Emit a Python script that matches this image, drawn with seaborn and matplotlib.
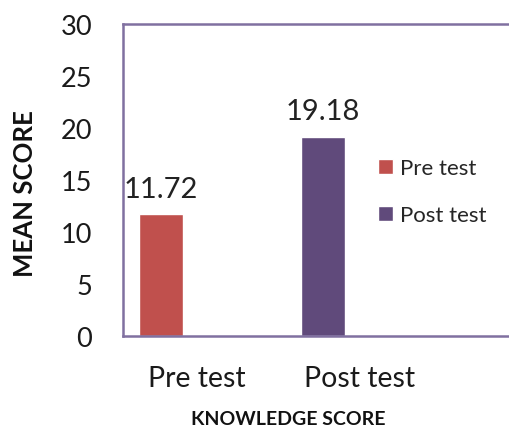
import seaborn as sns
import matplotlib.pyplot as plt
import pandas as pd

# values
categories = ['Pre test', 'Post test']
scores = [11.72, 19.18]
bar_colors = ['#C0504D', '#604A7B']
y_ticks = [0, 5, 10, 15, 20, 25, 30]

sns.set_theme(style='white')
plt.rcParams['font.family'] = ['Lato', 'DejaVu Sans']

df = pd.DataFrame({'test': categories, 'score': scores})

fig = plt.figure(figsize=(5.09, 4.31), dpi=100)
ax = fig.add_axes([0.241, 0.218, 0.765, 0.724])

sns.barplot(data=df, x='test', y='score', hue='test', palette=bar_colors,
            width=0.272, saturation=1, legend=False, ax=ax)

ax.set_xlim(-0.236, 2.17)
ax.set_ylim(0, 30)
ax.set_yticks(y_ticks)
ax.set_yticklabels([str(t) for t in y_ticks], fontsize=19.5, color='#1a1a1a')
ax.tick_params(axis='y', length=0, pad=22)

# category labels sit a bit to the right of the bars, like in the original
ax.set_xticks([i + 0.225 for i in range(len(categories))])
ax.set_xticklabels(categories, fontsize=20.5, color='#1a1a1a')
ax.tick_params(axis='x', length=0, pad=21)

for c in ax.containers:
    ax.bar_label(c, fmt='%.2f', fontsize=21, padding=9, color='#222222')

for s in ax.spines.values():
    s.set_color('#8070A0')
    s.set_linewidth(1.8)

ax.set_ylabel('MEAN SCORE', fontsize=18.5, fontweight='bold', color='#111111')
ax.yaxis.set_label_coords(-0.219, 0.46)
ax.set_xlabel('KNOWLEDGE SCORE', fontsize=14, fontweight='bold', color='#111111')
ax.xaxis.set_label_coords(0.424, -0.237)

handles = [c.patches[0] for c in ax.containers]
ax.legend(handles, categories, loc='upper left', bbox_to_anchor=(0.743, 0.630),
          bbox_transform=fig.transFigure, frameon=False,
          fontsize=16, handlelength=0.68, handleheight=0.68,
          handletextpad=0.3, labelspacing=1.2, borderpad=0,
          borderaxespad=0)

fig.savefig('out.png', dpi=100)
